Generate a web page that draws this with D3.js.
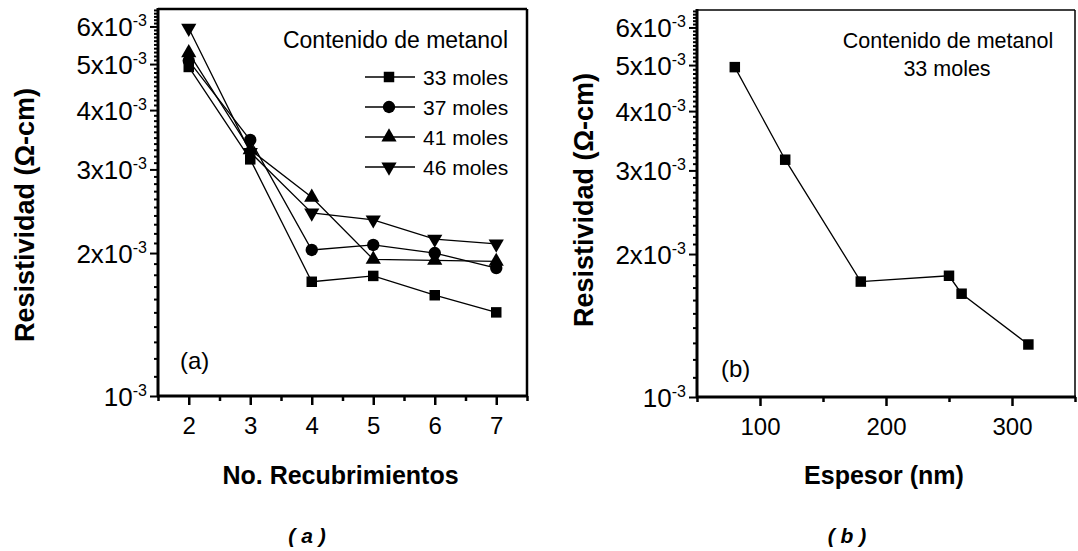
<!DOCTYPE html>
<html>
<head>
<meta charset="utf-8">
<script src="https://cdn.jsdelivr.net/npm/d3@7"></script>
<style>
  body { margin: 0; background: #fff; }
  text { font-family: "Liberation Sans", Arial, sans-serif; fill: #000; }
</style>
</head>
<body>
<div id="chart"></div>
<script>
// data
const recubrimientos = [2, 3, 4, 5, 6, 7];
const moles33 = [4.93e-3, 3.15e-3, 1.74e-3, 1.79e-3, 1.63e-3, 1.50e-3];
const moles37 = [5.08e-3, 3.46e-3, 2.03e-3, 2.08e-3, 2.00e-3, 1.86e-3];
const moles41 = [5.28e-3, 3.30e-3, 2.62e-3, 1.94e-3, 1.93e-3, 1.92e-3];
const moles46 = [5.95e-3, 3.26e-3, 2.43e-3, 2.35e-3, 2.14e-3, 2.09e-3];
const seriesNames = ['33 moles', '37 moles', '41 moles', '46 moles'];

const espesor = [80, 120, 180, 250, 260, 313];
const resEspesor = [4.95e-3, 3.16e-3, 1.75e-3, 1.80e-3, 1.65e-3, 1.29e-3];

const yMajor = [1e-3, 2e-3, 3e-3, 4e-3, 5e-3, 6e-3];
const yMajorLabels = ['10', '2x10', '3x10', '4x10', '5x10', '6x10'];

const svg = d3.select('#chart').append('svg')
    .attr('width', 1078)
    .attr('height', 551)

// minor ticks every 0.1e-3 on the log axis
const yMinor = d3.range(11, 66).map(d => d * 1e-4).filter(d => !yMajor.some(m => Math.abs(m - d) < 1e-9))

function drawPanel(opt) {
    const g = svg.append('g')
    const x = d3.scaleLinear().domain(opt.xDomain).range([opt.left, opt.right])
    const y = d3.scaleLog().domain([1e-3, 6.53e-3]).range([opt.bottom, opt.top])

    // frame
    g.append('line').attr('x1', opt.left).attr('x2', opt.right).attr('y1', opt.top).attr('y2', opt.top)
        .attr('stroke', '#000').attr('stroke-width', opt.thinFrame ? 1.5 : 2.5)
    g.append('line').attr('x1', opt.right).attr('x2', opt.right).attr('y1', opt.top).attr('y2', opt.bottom)
        .attr('stroke', '#000').attr('stroke-width', opt.thinFrame ? 1.5 : 2.5)

    // y axis: minor then major
    const yMin = g.append('g').attr('transform', `translate(${opt.left},0)`)
        .call(d3.axisLeft(y).tickValues(yMinor).tickSize(4).tickFormat(''))
    const yMaj = g.append('g').attr('transform', `translate(${opt.left},0)`)
        .call(d3.axisLeft(y).tickValues(yMajor).tickSize(8).tickFormat(''))
    ;[yMin, yMaj].forEach(a => {
        a.select('.domain').remove()
        a.selectAll('line').attr('stroke', '#000').attr('stroke-width', 2)
    })
    yMaj.selectAll('.tick').each(function (d, i) {
        const t = d3.select(this).append('text')
            .attr('x', -11).attr('y', 0)
            .attr('text-anchor', 'end')
            .style('font-size', '26px')
        t.append('tspan').attr('dy', '0.36em').text(yMajorLabels[i])
        t.append('tspan').attr('dy', '-0.62em').style('font-size', '16px').text('-3')
    })
    g.append('line').attr('x1', opt.left).attr('x2', opt.left).attr('y1', opt.top - 1).attr('y2', opt.bottom + 1)
        .attr('stroke', '#000').attr('stroke-width', 3)

    // x axis
    const xMin = g.append('g').attr('transform', `translate(0,${opt.bottom})`)
        .call(d3.axisBottom(x).tickValues(opt.xMinor).tickSize(5).tickFormat(''))
    const xMaj = g.append('g').attr('transform', `translate(0,${opt.bottom})`)
        .call(d3.axisBottom(x).tickValues(opt.xTicks).tickSize(9).tickPadding(12).tickFormat(d3.format('d')))
    ;[xMin, xMaj].forEach(a => {
        a.select('.domain').remove()
        a.selectAll('line').attr('stroke', '#000').attr('stroke-width', 2.5)
    })
    xMaj.selectAll('text').style('font-size', '24px').attr('fill', '#000')
        .attr('font-family', '"Liberation Sans", Arial, sans-serif')
    g.append('line').attr('x1', opt.left - 1).attr('x2', opt.right + 1).attr('y1', opt.bottom).attr('y2', opt.bottom)
        .attr('stroke', '#000').attr('stroke-width', 3)

    // axis titles
    g.append('text')
        .attr('transform', `translate(${opt.yTitleX},${opt.yTitleY}) rotate(-90)`)
        .attr('text-anchor', 'middle').attr('dy', '0.36em')
        .style('font-size', '27px').style('font-weight', 'bold')
        .text('Resistividad (\u03A9-cm)')
    g.append('text')
        .attr('x', (opt.left + opt.right) / 2 - 2).attr('y', 484)
        .attr('text-anchor', 'middle')
        .style('font-size', '25px').style('font-weight', 'bold')
        .text(opt.xTitle)
    g.append('text')
        .attr('x', opt.captionX).attr('y', 543)
        .attr('text-anchor', 'middle')
        .style('font-size', '21px').style('font-weight', 'bold').style('font-style', 'italic')
        .attr('xml:space', 'preserve')
        .text(opt.caption)

    return { g, x, y }
}

// ---- panel (a)
const pa = drawPanel({
    left: 158, right: 527, top: 9, bottom: 396,
    xDomain: [1.5, 7.5], xTicks: recubrimientos, xMinor: [1.5, 2.5, 3.5, 4.5, 5.5, 6.5, 7.5],
    xTitle: 'No. Recubrimientos', caption: '( a )', captionX: 307,
    yTitleX: 24, yTitleY: 215
})

const symbols = [
    d3.symbol().type(d3.symbolSquare).size(110),
    d3.symbol().type(d3.symbolCircle).size(120),
    d3.symbol().type(d3.symbolTriangle).size(100),
    d3.symbol().type(d3.symbolTriangle).size(100)
]
const rotations = [0, 0, 0, 180]
const allSeries = [moles33, moles37, moles41, moles46]

const line = (x, y) => d3.line().x(d => x(d[0])).y(d => y(d[1]))

allSeries.forEach((s, i) => {
    const pts = recubrimientos.map((r, j) => [r, s[j]])
    pa.g.append('path').datum(pts)
        .attr('d', line(pa.x, pa.y))
        .attr('fill', 'none').attr('stroke', '#000').attr('stroke-width', 1.3)
    pa.g.selectAll('.m' + i).data(pts).enter().append('path')
        .attr('transform', d => `translate(${pa.x(d[0])},${pa.y(d[1])}) rotate(${rotations[i]})`)
        .attr('d', symbols[i]).attr('fill', '#000')
})

// legend
pa.g.append('text').attr('x', 508).attr('y', 48).attr('text-anchor', 'end')
    .style('font-size', '23px').text('Contenido de metanol')
seriesNames.forEach((n, i) => {
    const ly = 77 + i * 30
    pa.g.append('line').attr('x1', 365).attr('x2', 415).attr('y1', ly).attr('y2', ly)
        .attr('stroke', '#000').attr('stroke-width', 1.3)
    pa.g.append('path').attr('transform', `translate(389,${ly}) rotate(${rotations[i]})`)
        .attr('d', symbols[i]).attr('fill', '#000')
    pa.g.append('text').attr('x', 423).attr('y', ly).attr('dy', '0.36em')
        .style('font-size', '21px').text(n)
})
pa.g.append('text').attr('x', 180).attr('y', 360).attr('dy', '0.36em')
    .style('font-size', '24px').text('(a)')

// ---- panel (b)
const pb = drawPanel({
    left: 697, right: 1075, top: 10, bottom: 397, thinFrame: true,
    xDomain: [50, 350], xTicks: [100, 200, 300], xMinor: [50, 150, 250, 350],
    xTitle: 'Espesor (nm)', caption: '( b )', captionX: 847,
    yTitleX: 583, yTitleY: 200
})
const ptsB = espesor.map((e, j) => [e, resEspesor[j]])
pb.g.append('path').datum(ptsB)
    .attr('d', line(pb.x, pb.y))
    .attr('fill', 'none').attr('stroke', '#000').attr('stroke-width', 1.3)
pb.g.selectAll('.mb').data(ptsB).enter().append('path')
    .attr('transform', d => `translate(${pb.x(d[0])},${pb.y(d[1])})`)
    .attr('d', symbols[0]).attr('fill', '#000')

pb.g.append('text').attr('x', 948).attr('y', 40).attr('dy', '0.36em').attr('text-anchor', 'middle')
    .style('font-size', '21.5px').text('Contenido de metanol')
pb.g.append('text').attr('x', 947).attr('y', 68).attr('dy', '0.36em').attr('text-anchor', 'middle')
    .style('font-size', '21.5px').text('33 moles')
pb.g.append('text').attr('x', 721).attr('y', 368).attr('dy', '0.36em')
    .style('font-size', '24px').text('(b)')
</script>
</body>
</html>
